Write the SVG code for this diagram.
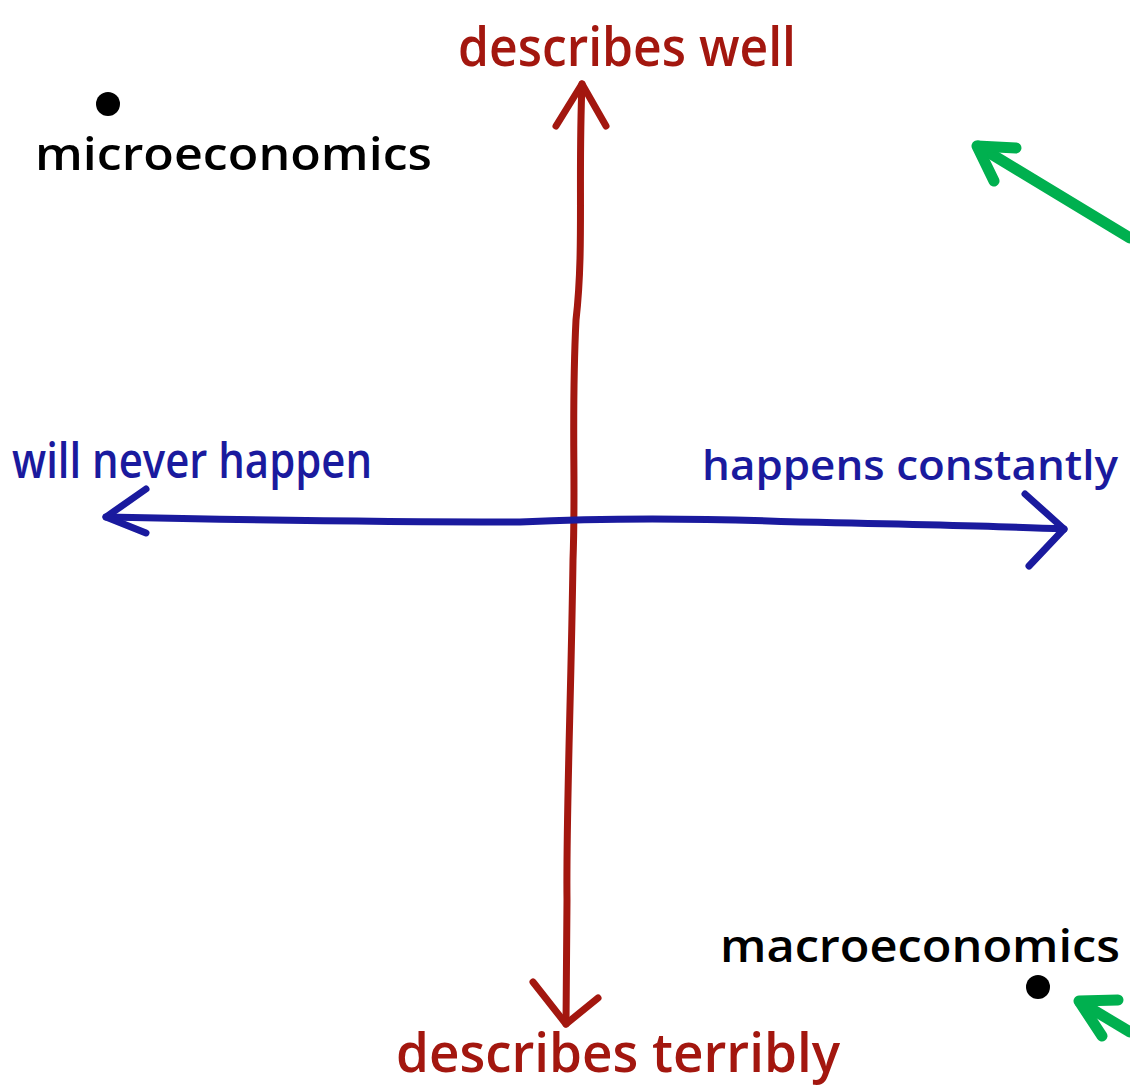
<svg xmlns="http://www.w3.org/2000/svg" width="1130" height="1088" viewBox="0 0 1130 1088">
<style>
.red{stroke:#a3170f;fill:none;stroke-width:7;stroke-linecap:round;stroke-linejoin:round}
.blue{stroke:#1a1a9e;fill:none;stroke-width:7;stroke-linecap:round;stroke-linejoin:round}
.green{stroke:#00b04f;fill:none;stroke-width:11;stroke-linecap:round;stroke-linejoin:round}
text{font-family:"Open Sans","Liberation Sans",sans-serif;font-weight:600}
.tr{fill:#a3170f;font-size:54px}
.tb{fill:#1a1a9e;font-size:48px}
.tb2{fill:#1a1a9e;font-size:42px}
.tk{fill:#000;font-size:46px}
</style>
<rect width="1130" height="1088" fill="#fff"/>
<g id="connectors">
<path class="red" d="M582,84 C578,180 584,250 576,320 C571,420 576,480 573,560 C571,700 566,820 567,900 L566,1024"/>
<path class="red" d="M556,126 L582,84 L606,126"/>
<path class="red" d="M533,982 L566,1024 L598,998"/>
<path class="blue" d="M106,517 C250,520 400,522 520,522 C600,518 700,518 800,522 C900,524 1000,526 1064,529"/>
<path class="blue" d="M146,489 L106,517 L146,533"/>
<path class="blue" d="M1025,494 L1064,529 L1029,566"/>
<path class="green" d="M1130,238 L978,146"/>
<path class="green" d="M977,146 L1016,148 M977,146 L994,181"/>
<path class="green" d="M1130,1032 L1080,1002"/>
<path class="green" d="M1079,1001 L1118,1000 M1079,1001 L1102,1036"/>
</g>
<g id="label-top"><text class="tr" x="458" y="66" textLength="338" lengthAdjust="spacingAndGlyphs">describes well</text></g>
<g id="label-bottom"><text class="tr" x="396" y="1072" textLength="444" lengthAdjust="spacingAndGlyphs">describes terribly</text></g>
<g id="label-left"><text class="tb" x="12" y="478" textLength="360" lengthAdjust="spacingAndGlyphs">will never happen</text></g>
<g id="label-right"><text class="tb2" x="702" y="480" textLength="416" lengthAdjust="spacingAndGlyphs">happens constantly</text></g>
<g id="microeconomics"><circle cx="108" cy="104" r="12" fill="#000"/><text class="tk" x="35" y="170" textLength="397" lengthAdjust="spacingAndGlyphs">microeconomics</text></g>
<g id="macroeconomics"><circle cx="1038" cy="987" r="12" fill="#000"/><text class="tk" x="720" y="962" textLength="400" lengthAdjust="spacingAndGlyphs">macroeconomics</text></g>
</svg>
